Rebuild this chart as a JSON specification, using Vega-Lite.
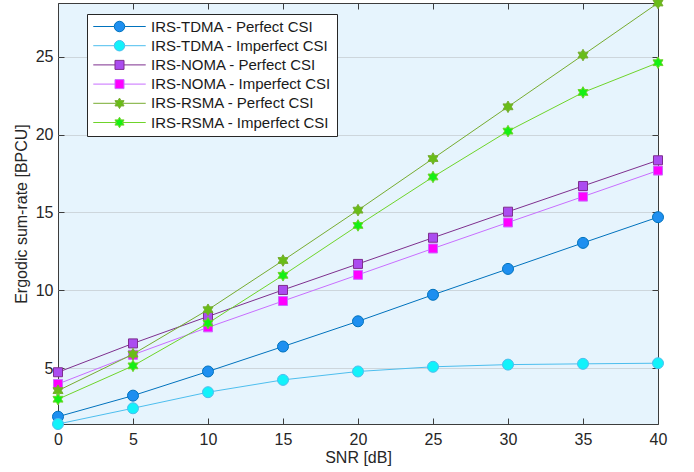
{
  "$schema": "https://vega.github.io/schema/vega-lite/v6.json",
  "autosize": {"type": "none"},
  "width": 600,
  "height": 421,
  "padding": {"left": 58, "top": 3, "right": 36, "bottom": 48},
  "background": "#ffffff",
  "config": {
    "font": "Liberation Sans",
    "view": {"fill": "#e6f4fd", "stroke": "#3c3c3c", "strokeWidth": 1},
    "axis": {
      "labelFont": "Liberation Sans",
      "titleFont": "Liberation Sans",
      "labelFontSize": 16,
      "titleFontSize": 16,
      "labelColor": "#262626",
      "titleColor": "#262626",
      "titleFontWeight": "normal",
      "labelFlush": false,
      "labelOverlap": false,
      "domain": false,
      "tickColor": "#3c3c3c",
      "tickSize": -6,
      "tickWidth": 1
    },
    "legend": {
      "orient": "none",
      "legendX": 29,
      "legendY": 11,
      "fillColor": "#ffffff",
      "strokeColor": "#262626",
      "padding": 5,
      "cornerRadius": 0,
      "labelFont": "Liberation Sans",
      "labelFontSize": 15,
      "labelColor": "#1a1a1a",
      "labelLimit": 400,
      "rowPadding": 3.2,
      "clipHeight": 15,
      "symbolSize": 110,
      "symbolStrokeWidth": 1,
      "symbolOffset": 20,
      "labelOffset": 24
    }
  },
  "data": {
    "values": [
      {"snr": 0, "rate": 1.9, "series": "IRS-TDMA - Perfect CSI"},
      {"snr": 5, "rate": 3.25, "series": "IRS-TDMA - Perfect CSI"},
      {"snr": 10, "rate": 4.8, "series": "IRS-TDMA - Perfect CSI"},
      {"snr": 15, "rate": 6.4, "series": "IRS-TDMA - Perfect CSI"},
      {"snr": 20, "rate": 8.02, "series": "IRS-TDMA - Perfect CSI"},
      {"snr": 25, "rate": 9.72, "series": "IRS-TDMA - Perfect CSI"},
      {"snr": 30, "rate": 11.38, "series": "IRS-TDMA - Perfect CSI"},
      {"snr": 35, "rate": 13.05, "series": "IRS-TDMA - Perfect CSI"},
      {"snr": 40, "rate": 14.7, "series": "IRS-TDMA - Perfect CSI"},
      {"snr": 0, "rate": 1.43, "series": "IRS-TDMA - Imperfect CSI"},
      {"snr": 5, "rate": 2.44, "series": "IRS-TDMA - Imperfect CSI"},
      {"snr": 10, "rate": 3.47, "series": "IRS-TDMA - Imperfect CSI"},
      {"snr": 15, "rate": 4.26, "series": "IRS-TDMA - Imperfect CSI"},
      {"snr": 20, "rate": 4.8, "series": "IRS-TDMA - Imperfect CSI"},
      {"snr": 25, "rate": 5.1, "series": "IRS-TDMA - Imperfect CSI"},
      {"snr": 30, "rate": 5.24, "series": "IRS-TDMA - Imperfect CSI"},
      {"snr": 35, "rate": 5.29, "series": "IRS-TDMA - Imperfect CSI"},
      {"snr": 40, "rate": 5.33, "series": "IRS-TDMA - Imperfect CSI"},
      {"snr": 0, "rate": 4.75, "series": "IRS-NOMA - Perfect CSI"},
      {"snr": 5, "rate": 6.6, "series": "IRS-NOMA - Perfect CSI"},
      {"snr": 10, "rate": 8.33, "series": "IRS-NOMA - Perfect CSI"},
      {"snr": 15, "rate": 10.03, "series": "IRS-NOMA - Perfect CSI"},
      {"snr": 20, "rate": 11.7, "series": "IRS-NOMA - Perfect CSI"},
      {"snr": 25, "rate": 13.38, "series": "IRS-NOMA - Perfect CSI"},
      {"snr": 30, "rate": 15.05, "series": "IRS-NOMA - Perfect CSI"},
      {"snr": 35, "rate": 16.7, "series": "IRS-NOMA - Perfect CSI"},
      {"snr": 40, "rate": 18.35, "series": "IRS-NOMA - Perfect CSI"},
      {"snr": 0, "rate": 4.0, "series": "IRS-NOMA - Imperfect CSI"},
      {"snr": 5, "rate": 5.87, "series": "IRS-NOMA - Imperfect CSI"},
      {"snr": 10, "rate": 7.63, "series": "IRS-NOMA - Imperfect CSI"},
      {"snr": 15, "rate": 9.32, "series": "IRS-NOMA - Imperfect CSI"},
      {"snr": 20, "rate": 11.0, "series": "IRS-NOMA - Imperfect CSI"},
      {"snr": 25, "rate": 12.69, "series": "IRS-NOMA - Imperfect CSI"},
      {"snr": 30, "rate": 14.36, "series": "IRS-NOMA - Imperfect CSI"},
      {"snr": 35, "rate": 16.02, "series": "IRS-NOMA - Imperfect CSI"},
      {"snr": 40, "rate": 17.69, "series": "IRS-NOMA - Imperfect CSI"},
      {"snr": 0, "rate": 3.57, "series": "IRS-RSMA - Perfect CSI"},
      {"snr": 5, "rate": 5.91, "series": "IRS-RSMA - Perfect CSI"},
      {"snr": 10, "rate": 8.76, "series": "IRS-RSMA - Perfect CSI"},
      {"snr": 15, "rate": 11.92, "series": "IRS-RSMA - Perfect CSI"},
      {"snr": 20, "rate": 15.15, "series": "IRS-RSMA - Perfect CSI"},
      {"snr": 25, "rate": 18.46, "series": "IRS-RSMA - Perfect CSI"},
      {"snr": 30, "rate": 21.78, "series": "IRS-RSMA - Perfect CSI"},
      {"snr": 35, "rate": 25.1, "series": "IRS-RSMA - Perfect CSI"},
      {"snr": 40, "rate": 28.44, "series": "IRS-RSMA - Perfect CSI"},
      {"snr": 0, "rate": 3.02, "series": "IRS-RSMA - Imperfect CSI"},
      {"snr": 5, "rate": 5.16, "series": "IRS-RSMA - Imperfect CSI"},
      {"snr": 10, "rate": 7.9, "series": "IRS-RSMA - Imperfect CSI"},
      {"snr": 15, "rate": 10.97, "series": "IRS-RSMA - Imperfect CSI"},
      {"snr": 20, "rate": 14.17, "series": "IRS-RSMA - Imperfect CSI"},
      {"snr": 25, "rate": 17.28, "series": "IRS-RSMA - Imperfect CSI"},
      {"snr": 30, "rate": 20.22, "series": "IRS-RSMA - Imperfect CSI"},
      {"snr": 35, "rate": 22.7, "series": "IRS-RSMA - Imperfect CSI"},
      {"snr": 40, "rate": 24.61, "series": "IRS-RSMA - Imperfect CSI"}
    ]
  },
  "encoding": {
    "x": {"field": "snr", "type": "quantitative", "scale": {"domain": [0, 40], "nice": false, "zero": false}},
    "y": {"field": "rate", "type": "quantitative", "scale": {"domain": [1.43, 28.44], "nice": false, "zero": false}}
  },
  "layer": [
    {
      "mark": {"type": "line", "strokeWidth": 1},
      "encoding": {
        "x": {"field": "snr", "type": "quantitative", "axis": {"orient": "bottom", "title": "SNR [dB]", "values": [0, 5, 10, 15, 20, 25, 30, 35, 40], "grid": false, "labelPadding": 13, "titlePadding": 2}},
        "y": {"field": "rate", "type": "quantitative", "axis": {"orient": "left", "title": "Ergodic sum-rate [BPCU]", "values": [5, 10, 15, 20, 25], "grid": true, "gridColor": "#cdd6dc", "gridWidth": 1, "labelPadding": 11, "titlePadding": 6}},
        "stroke": {
          "field": "series", "type": "nominal",
          "scale": {
            "domain": ["IRS-TDMA - Perfect CSI", "IRS-TDMA - Imperfect CSI", "IRS-NOMA - Perfect CSI", "IRS-NOMA - Imperfect CSI", "IRS-RSMA - Perfect CSI", "IRS-RSMA - Imperfect CSI"],
            "range": ["#0072bd", "#4dbeee", "#7e2f8e", "#c86eff", "#77ac30", "#6fd42a"]
          },
          "legend": {
            "title": null,
            "encode": {"symbols": {"update": {"shape": {"signal": "indexof(datum.value, 'TDMA') >= 0 ? 'M-5,0H-1M5,0H1M1,0A1,1,0,1,1,-1,0A1,1,0,1,1,1,0Z' : indexof(datum.value, 'NOMA') >= 0 ? 'M-5,0H-0.86M5,0H0.86M-0.86,-0.86H0.86V0.86H-0.86Z' : 'M-5,0H-0.58M5,0H0.58M0,-1L0.2887,-0.5L0.866,-0.5L0.577,0L0.866,0.5L0.2887,0.5L0,1L-0.2887,0.5L-0.866,0.5L-0.577,0L-0.866,-0.5L-0.2887,-0.5Z'"}}}}
          }
        }
      }
    },
    {
      "mark": {"type": "point", "filled": true, "opacity": 1, "strokeWidth": 1, "size": 121},
      "encoding": {
        "x": {"field": "snr", "type": "quantitative", "axis": {"orient": "top", "labels": false, "title": null, "values": [0, 5, 10, 15, 20, 25, 30, 35, 40], "grid": false}},
        "y": {"field": "rate", "type": "quantitative", "axis": {"orient": "right", "labels": false, "title": null, "values": [5, 10, 15, 20, 25], "grid": false}},
        "stroke": {
          "field": "series", "type": "nominal",
          "scale": {
            "domain": ["IRS-TDMA - Perfect CSI", "IRS-TDMA - Imperfect CSI", "IRS-NOMA - Perfect CSI", "IRS-NOMA - Imperfect CSI", "IRS-RSMA - Perfect CSI", "IRS-RSMA - Imperfect CSI"],
            "range": ["#0072bd", "#4dbeee", "#7e2f8e", "#c86eff", "#77ac30", "#6fd42a"]
          },
          "legend": {
            "title": null,
            "encode": {"symbols": {"update": {"shape": {"signal": "indexof(datum.value, 'TDMA') >= 0 ? 'M-5,0H-1M5,0H1M1,0A1,1,0,1,1,-1,0A1,1,0,1,1,1,0Z' : indexof(datum.value, 'NOMA') >= 0 ? 'M-5,0H-0.86M5,0H0.86M-0.86,-0.86H0.86V0.86H-0.86Z' : 'M-5,0H-0.58M5,0H0.58M0,-1L0.2887,-0.5L0.866,-0.5L0.577,0L0.866,0.5L0.2887,0.5L0,1L-0.2887,0.5L-0.866,0.5L-0.577,0L-0.866,-0.5L-0.2887,-0.5Z'"}}}}
          }
        },
        "fill": {
          "field": "series", "type": "nominal",
          "scale": {
            "domain": ["IRS-TDMA - Perfect CSI", "IRS-TDMA - Imperfect CSI", "IRS-NOMA - Perfect CSI", "IRS-NOMA - Imperfect CSI", "IRS-RSMA - Perfect CSI", "IRS-RSMA - Imperfect CSI"],
            "range": ["#1e8ff0", "#12f2fa", "#ab4cf0", "#ff00ff", "#68bd18", "#14f014"]
          },
          "legend": {
            "title": null,
            "encode": {"symbols": {"update": {"shape": {"signal": "indexof(datum.value, 'TDMA') >= 0 ? 'M-5,0H-1M5,0H1M1,0A1,1,0,1,1,-1,0A1,1,0,1,1,1,0Z' : indexof(datum.value, 'NOMA') >= 0 ? 'M-5,0H-0.86M5,0H0.86M-0.86,-0.86H0.86V0.86H-0.86Z' : 'M-5,0H-0.58M5,0H0.58M0,-1L0.2887,-0.5L0.866,-0.5L0.577,0L0.866,0.5L0.2887,0.5L0,1L-0.2887,0.5L-0.866,0.5L-0.577,0L-0.866,-0.5L-0.2887,-0.5Z'"}}}}
          }
        },
        "shape": {
          "field": "series", "type": "nominal",
          "scale": {
            "domain": ["IRS-RSMA - Imperfect CSI", "IRS-RSMA - Perfect CSI", "IRS-NOMA - Imperfect CSI", "IRS-NOMA - Perfect CSI", "IRS-TDMA - Imperfect CSI", "IRS-TDMA - Perfect CSI"],
            "range": [
              "M0,-1.05L0.303,-0.525L0.909,-0.525L0.606,0L0.909,0.525L0.303,0.525L0,1.05L-0.303,0.525L-0.909,0.525L-0.606,0L-0.909,-0.525L-0.303,-0.525Z",
              "M0,-1.05L0.303,-0.525L0.909,-0.525L0.606,0L0.909,0.525L0.303,0.525L0,1.05L-0.303,0.525L-0.909,0.525L-0.606,0L-0.909,-0.525L-0.303,-0.525Z",
              "M-0.82,-0.82H0.82V0.82H-0.82Z", "M-0.82,-0.82H0.82V0.82H-0.82Z",
              "circle", "circle"
            ]
          },
          "legend": null
        }
      }
    }
  ],
  "resolve": {"axis": {"x": "independent", "y": "independent"}}
}
